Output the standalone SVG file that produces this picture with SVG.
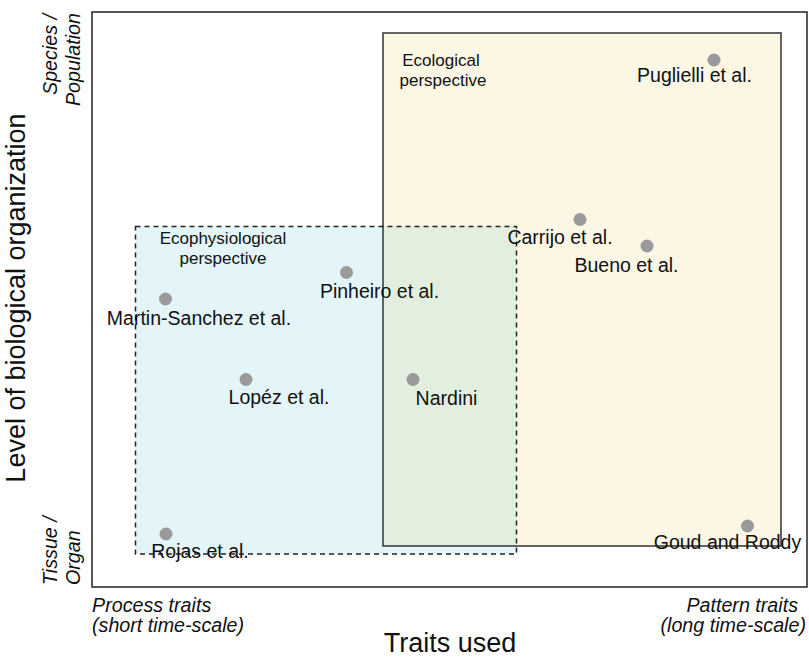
<svg xmlns="http://www.w3.org/2000/svg" width="809" height="658" viewBox="0 0 809 658">
  <style>
    text { font-family: "Liberation Sans", Arial, sans-serif; fill: #111; }
    .lbl { font-size: 19.5px; text-anchor: middle; }
    .persp { font-size: 17px; text-anchor: middle; }
    .axis { font-size: 27px; text-anchor: middle; }
    .corner { font-size: 19.7px; font-style: italic; }
    .pt { fill: #9a9a9a; }
  </style>

  <!-- plot panel -->
  <rect x="92" y="12" width="715" height="575" fill="#fff" stroke="#222" stroke-width="1.5"/>

  <!-- perspective regions -->
  <g id="ecological">
    <rect x="383" y="33" width="398" height="513" fill="#fcf6e5"/>
  </g>
  <g id="ecophysiological">
    <rect x="135.5" y="226.5" width="381" height="327.5" fill="#e3f5f8"/>
    <rect x="383" y="226.5" width="133.5" height="319.5" fill="#e3efde"/>
  </g>
  <rect x="383" y="33" width="398" height="513" fill="none" stroke="#333" stroke-width="1.5"/>
  <rect x="135.5" y="226.5" width="381" height="327.5" fill="none" stroke="#222" stroke-width="1.5" stroke-dasharray="5,4"/>
  <text class="persp" x="441" y="66">Ecological</text>
  <text class="persp" x="443" y="86">perspective</text>
  <text class="persp" x="223" y="244">Ecophysiological</text>
  <text class="persp" x="223" y="264">perspective</text>

  <!-- studies -->
  <g id="puglielli"><circle class="pt" cx="714" cy="60" r="6.5"/><text class="lbl" x="694.5" y="82">Puglielli et al.</text></g>
  <g id="carrijo"><circle class="pt" cx="580" cy="219.5" r="6.5"/><text class="lbl" x="560" y="243.5">Carrijo et al.</text></g>
  <g id="bueno"><circle class="pt" cx="647" cy="246" r="6.5"/><text class="lbl" x="626.5" y="271.5">Bueno et al.</text></g>
  <g id="pinheiro"><circle class="pt" cx="346.5" cy="272.5" r="6.5"/><text class="lbl" x="379.5" y="298">Pinheiro et al.</text></g>
  <g id="martin-sanchez"><circle class="pt" cx="165.5" cy="299" r="6.5"/><text class="lbl" x="199" y="324.5">Martin-Sanchez et al.</text></g>
  <g id="lopez"><circle class="pt" cx="246" cy="379.5" r="6.5"/><text class="lbl" x="279" y="403.5">Lopéz et al.</text></g>
  <g id="nardini"><circle class="pt" cx="413" cy="379.5" r="6.5"/><text class="lbl" x="446.5" y="404.5">Nardini</text></g>
  <g id="rojas"><circle class="pt" cx="166" cy="534" r="6.5"/><text class="lbl" x="200" y="557.5">Rojas et al.</text></g>
  <g id="goud-roddy"><circle class="pt" cx="747.5" cy="526" r="6.5"/><text class="lbl" x="727.5" y="548.5">Goud and Roddy</text></g>

  <!-- axis annotations -->
  <text class="corner" transform="translate(56.5,14) rotate(-90)" text-anchor="end">Species /</text>
  <text class="corner" transform="translate(80,13) rotate(-90)" text-anchor="end">Population</text>
  <text class="corner" transform="translate(56.5,585) rotate(-90)">Tissue /</text>
  <text class="corner" transform="translate(80,585) rotate(-90)">Organ</text>
  <text class="corner" x="92" y="612">Process traits</text>
  <text class="corner" x="92" y="632">(short time-scale)</text>
  <text class="corner" x="798" y="612" text-anchor="end">Pattern traits</text>
  <text class="corner" x="806" y="632" text-anchor="end">(long time-scale)</text>

  <text class="axis" x="450" y="652">Traits used</text>
  <text class="axis" transform="translate(25,298) rotate(-90)">Level of biological organization</text>
</svg>
